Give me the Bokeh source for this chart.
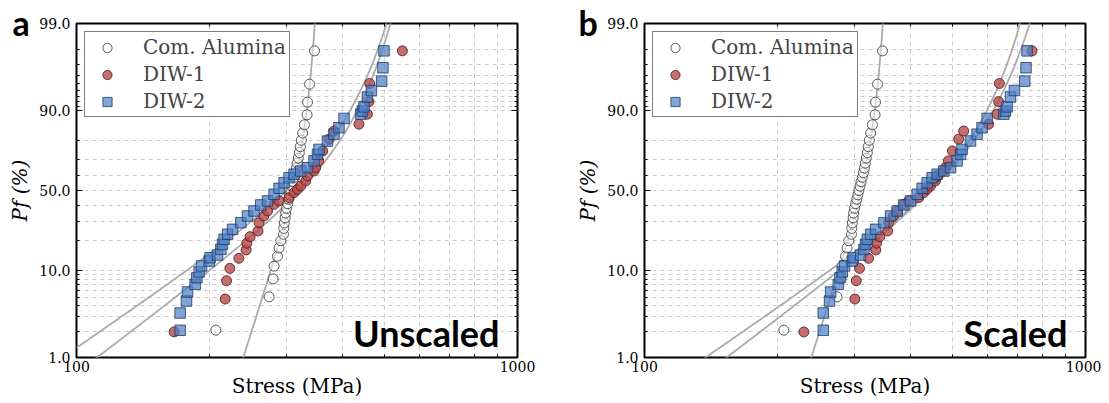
import numpy as np
from bokeh.plotting import figure
from bokeh.models import (FixedTicker, LinearAxis, LogAxis, Label, Legend, LegendItem,
                          Range1d, CustomJSTickFormatter, Title)
from bokeh.layouts import row
from bokeh.embed import file_html
from bokeh.resources import INLINE

# ---------------- data ----------------
# Commercial alumina (same in both panels)
alumina_stress = [207.0, 273.4, 279.1, 280.6, 285.6, 288.0, 290.6, 294.6, 295.1, 296.0, 297.2,
                  298.0, 299.4, 301.1, 302.9, 304.6, 306.2, 308.1, 309.8, 311.8, 313.6, 315.2,
                  316.7, 318.3, 320.1, 321.8, 323.5, 325.7, 328.7, 333.3, 334.1, 337.6, 346.5]
alumina_pf = [2.10, 5.09, 8.08, 11.08, 14.07, 17.07, 20.06, 23.05, 26.05, 29.04, 32.04,
              35.03, 38.02, 41.02, 44.01, 47.01, 50.00, 52.99, 55.99, 58.98, 61.98, 64.97,
              67.96, 70.96, 73.95, 76.95, 79.94, 82.93, 85.93, 88.92, 91.92, 94.91, 97.90]

# DIW-1
diw1_pf = [2.0, 4.8, 7.7, 10.5, 13.4, 16.3, 19.0, 21.9, 24.7, 29.2, 33.1, 36.3, 40.6, 42.9,
           45.1, 48.5, 50.8, 53.1, 56.5, 59.8, 63.1, 65.2, 69.3, 74.8, 80.4, 83.7, 86.1,
           89.1, 92.0, 95.0, 97.9]
diw1_stress_unscaled = [166.5, 217.3, 218.9, 222.7, 233.4, 242.4, 243.3, 247.5, 258.0, 259.4,
                        265.9, 271.1, 280.6, 288.0, 303.4, 311.4, 317.0, 322.5, 331.0, 334.0,
                        345.7, 348.7, 354.2, 361.7, 373.8, 383.6, 437.0, 456.7, 460.5, 462.2,
                        548.2]
diw1_stress_scaled = [229.8, 299.9, 302.1, 307.3, 322.1, 334.5, 335.8, 341.6, 356.0, 358.0,
                      366.9, 374.1, 387.2, 397.4, 418.7, 429.7, 437.5, 445.1, 456.8, 460.9,
                      477.1, 481.2, 488.8, 499.1, 515.8, 529.4, 603.1, 630.2, 635.5, 637.8,
                      756.5]

# DIW-2
diw2_pf = [2.09, 3.32, 4.56, 5.77, 7.04, 8.32, 9.60, 11.14, 12.56, 13.60, 14.49, 16.54, 18.53,
           20.71, 23.07, 25.57, 29.18, 33.13, 36.26, 40.17, 42.86, 47.41, 51.5, 55.3, 58.7,
           61.0, 63.1, 65.2, 69.3, 73.0, 75.6, 79.6, 82.5, 84.9, 87.9, 89.1, 89.9, 90.9,
           92.9, 94.0, 95.3, 96.7, 97.9]
diw2_stress_unscaled = [171.8, 171.8, 177.6, 178.6, 185.8, 187.5, 189.7, 192.1, 199.9, 200.9,
                        208.8, 212.5, 214.3, 216.2, 220.1, 225.9, 235.8, 244.2, 252.7, 261.7,
                        271.1, 280.6, 288.0, 295.7, 303.4, 311.4, 322.5, 334.0, 345.7, 351.9,
                        354.8, 370.7, 383.6, 393.7, 404.3, 441.0, 444.9, 448.7, 456.7, 466.3,
                        492.0, 495.3, 498.0]
diw2_stress_scaled = [254.3, 254.3, 262.8, 264.3, 275.0, 277.5, 280.8, 284.3, 295.9, 297.3,
                      309.0, 314.5, 317.2, 320.0, 325.7, 334.3, 349.0, 361.4, 374.0, 387.3,
                      401.2, 415.3, 426.2, 437.6, 449.0, 460.9, 477.3, 494.3, 511.6, 520.8,
                      525.1, 548.6, 567.7, 582.7, 598.4, 652.7, 658.5, 664.1, 675.9, 690.1,
                      728.2, 733.0, 737.0]

# Weibull fit parameters (modulus m, characteristic strength s0 in MPa)
alumina_fit = (16.4, 316.2)
diw1_fit_unscaled = (4.0, 351.5)
diw2_fit_unscaled = (3.62, 331.1)
diw1_fit_scaled = (4.0, 485.0)
diw2_fit_scaled = (3.62, 490.0)

# axis ticks
y_major = [1, 10, 50, 90, 99]
y_minor = [2, 3, 4, 5, 6, 7, 8, 9, 20, 30, 40, 60, 70, 80, 91, 92, 93, 94, 95, 96, 97, 98]
x_major = [100, 1000]
x_minor = [200, 300, 400, 500, 600, 700, 800, 900]

SERIF = "DejaVu Serif"
SANS = "Lato"


def logit(p):
    p = np.asarray(p, dtype=float)
    return np.log10(p / (100.0 - p))


def weibull_curve(s, m, s0):
    P = 1.0 - np.exp(-(s / s0) ** m)
    P = np.clip(P, 1e-9, 1 - 1e-12)
    return np.log10(P / (1 - P))


def style_axis(ax, labels=True):
    ax.axis_line_color = None
    ax.major_tick_in = 6
    ax.major_tick_out = 0
    ax.minor_tick_in = 3
    ax.minor_tick_out = 0
    ax.major_tick_line_color = "black"
    ax.minor_tick_line_color = "black"
    ax.major_tick_line_width = 1
    if labels:
        ax.major_label_text_font = SERIF
        ax.major_label_text_font_size = "14px"
        ax.major_label_text_color = "black"


def make_panel(letter, tag, d1_stress, d2_stress, fit1, fit2, width, bl, br, letter_off):
    p = figure(width=width, height=401, x_axis_type="log",
               x_range=Range1d(100, 1000),
               y_range=Range1d(float(logit(1)), float(logit(99))),
               output_backend="svg", toolbar_location=None,
               min_border_left=bl, min_border_right=br,
               min_border_top=23, min_border_bottom=44)
    p.background_fill_color = "white"
    p.border_fill_color = "white"
    p.outline_line_color = "black"
    p.outline_line_width = 2

    xt = FixedTicker(ticks=x_major, minor_ticks=x_minor)
    yt = FixedTicker(ticks=[float(v) for v in logit(y_major)],
                     minor_ticks=[float(v) for v in logit(y_minor)])
    xax = p.below[0]
    yax = p.left[0]
    xax.ticker = xt
    yax.ticker = yt
    xax.formatter = CustomJSTickFormatter(code="return Math.round(tick).toString();")
    yax.formatter = CustomJSTickFormatter(
        code="const v = Math.pow(10, tick); return (100*v/(1+v)).toFixed(1);")
    for ax in (xax, yax):
        style_axis(ax)
    xax.major_label_standoff = 3
    yax.major_label_standoff = 6

    ra = LinearAxis(ticker=yt, major_label_text_color=None, major_label_text_font_size="1px",
                    major_label_standoff=0)
    ta = LogAxis(ticker=xt, major_label_text_color=None, major_label_text_font_size="1px",
                 major_label_standoff=0)
    style_axis(ra, labels=False)
    style_axis(ta, labels=False)
    p.add_layout(ra, "right")
    p.add_layout(ta, "above")

    # axis titles (serif), placed outside the frame
    p.add_layout(Title(text="Stress (MPa)", align="center", vertical_align="top",
                       standoff=-2, text_font=SERIF, text_font_size="20px",
                       text_font_style="normal", text_color="black"), "below")
    p.add_layout(Title(text="Pf (%)", align="center", vertical_align="bottom",
                       standoff=10, text_font=SERIF, text_font_size="20px",
                       text_font_style="italic", text_color="black"), "left")

    for g in (p.xgrid, p.ygrid):
        g.grid_line_color = "#cccccc"
        g.grid_line_dash = "4 4"
        g.grid_line_width = 1
        g.minor_grid_line_color = "#cccccc"
        g.minor_grid_line_dash = "4 4"
        g.minor_grid_line_width = 1

    # fit lines
    s = np.geomspace(100, 1000, 600)
    for (m, s0) in (alumina_fit, fit1, fit2):
        p.line(s, weibull_curve(s, m, s0), line_color="#ababab", line_width=1.8)

    r1 = p.scatter(alumina_stress, logit(alumina_pf), marker="circle", size=10,
                   fill_color="white", fill_alpha=0.5, line_color="#3c3c3c",
                   line_alpha=0.85, line_width=1)
    r2 = p.scatter(d1_stress, logit(diw1_pf), marker="circle", size=10,
                   fill_color="#b84a4a", fill_alpha=0.8, line_color="#4a1515",
                   line_alpha=0.8, line_width=1)
    r3 = p.scatter(d2_stress, logit(diw2_pf), marker="square", size=10.5,
                   fill_color="#4a7ec6", fill_alpha=0.7, line_color="#1d3a63",
                   line_alpha=0.8, line_width=1)

    legend = Legend(items=[LegendItem(label="Com. Alumina", renderers=[r1]),
                           LegendItem(label="DIW-1", renderers=[r2]),
                           LegendItem(label="DIW-2", renderers=[r3])],
                    location=(8, 240))
    legend.label_text_font = SERIF
    legend.label_text_font_size = "20px"
    legend.border_line_color = "black"
    legend.border_line_width = 1
    legend.background_fill_color = "white"
    legend.background_fill_alpha = 1
    legend.padding = 3
    legend.spacing = 3
    legend.margin = 0
    legend.glyph_width = 38
    legend.glyph_height = 23
    legend.label_height = 23
    legend.label_standoff = 17
    p.add_layout(legend)

    # corner tag inside the frame
    p.add_layout(Label(x=423, y=25, x_units="screen", y_units="screen", text=tag,
                       text_font=SANS, text_font_style="bold", text_font_size="36px",
                       text_align="right", text_baseline="alphabetic", text_color="black"))
    # panel letter as an outer title
    t = Title(text=letter, align="left", offset=letter_off, standoff=-38,
              vertical_align="bottom", text_font=SANS, text_font_style="bold",
              text_font_size="34px", text_color="black")
    p.add_layout(t, "above")
    return p


pa = make_panel("a", "Unscaled", diw1_stress_unscaled, diw2_stress_unscaled,
                diw1_fit_unscaled, diw2_fit_unscaled, 560, 76, 43, -64)
pb = make_panel("b", "Scaled", diw1_stress_scaled, diw2_stress_scaled,
                diw1_fit_scaled, diw2_fit_scaled, 541, 84, 16, -66)

layout = row(pa, pb)
open("out.html", "w").write(file_html(layout, INLINE))
